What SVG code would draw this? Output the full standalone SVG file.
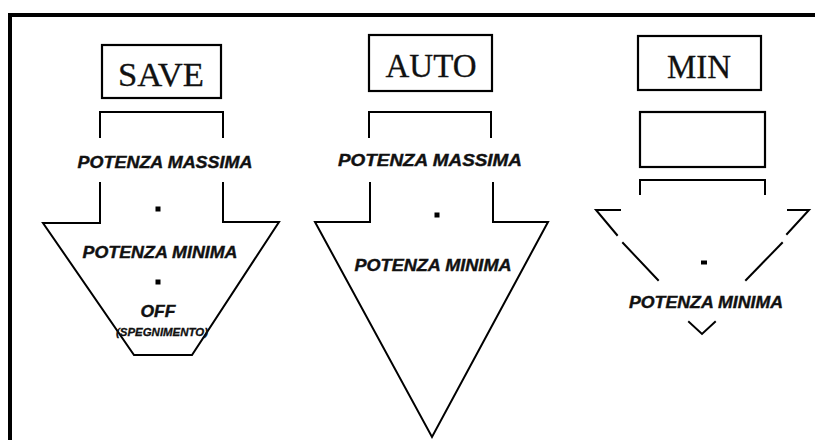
<svg xmlns="http://www.w3.org/2000/svg" width="815" height="440" viewBox="0 0 815 440">
<style>
.ln{fill:none;stroke:#000;stroke-width:2;stroke-linejoin:miter;stroke-linecap:square}
.bx{fill:#fff;stroke:#000;stroke-width:2.2}
.mode{font-family:"Liberation Serif","Times New Roman",serif;font-size:33px;fill:#111;stroke:#111;stroke-width:0.3;text-anchor:middle}
.lbl{font-family:"Liberation Sans",Arial,sans-serif;font-weight:bold;font-style:italic;font-size:17px;fill:#111;stroke:#111;stroke-width:0.4;text-anchor:middle}
.small{font-family:"Liberation Sans",Arial,sans-serif;font-weight:bold;font-style:italic;font-size:11px;fill:#111;stroke:#111;stroke-width:0.3;text-anchor:middle}
.dot{fill:#000}
</style>
<rect width="815" height="440" fill="#fff"/>
<g id="frame">
<line x1="8" y1="15" x2="815" y2="15" stroke="#000" stroke-width="4"/>
<line x1="10" y1="13" x2="10" y2="440" stroke="#000" stroke-width="4"/>
</g>

<g id="save-label">
<rect class="bx" x="102" y="45" width="119" height="53"/>
<text class="mode" x="161" y="86" textLength="86" lengthAdjust="spacingAndGlyphs">SAVE</text>
</g>
<g id="save-arrow">
<path class="ln" d="M100,137 V112 H223 V137"/>
<path class="ln" d="M100,183 V223 H43 L134,355 H192 L279,222 H223 V183"/>
<text class="lbl" x="165" y="168" textLength="175" lengthAdjust="spacingAndGlyphs">POTENZA MASSIMA</text>
<rect class="dot" x="155.5" y="206.5" width="5" height="5"/>
<text class="lbl" x="160" y="258" textLength="155" lengthAdjust="spacingAndGlyphs">POTENZA MINIMA</text>
<rect class="dot" x="155.5" y="279.5" width="5" height="5"/>
<text class="lbl" x="158" y="317" textLength="35" lengthAdjust="spacingAndGlyphs">OFF</text>
<text class="small" x="162" y="336" textLength="92" lengthAdjust="spacingAndGlyphs">(SPEGNIMENTO)</text>
</g>

<g id="auto-label">
<rect class="bx" x="369" y="35" width="123" height="56"/>
<text class="mode" x="431" y="77" textLength="91" lengthAdjust="spacingAndGlyphs">AUTO</text>
</g>
<g id="auto-arrow">
<path class="ln" d="M369,137 V112 H491 V137"/>
<path class="ln" d="M370,183 V222 H315 L432,437 L548,222 H493 V183"/>
<text class="lbl" x="430" y="166" textLength="184" lengthAdjust="spacingAndGlyphs">POTENZA MASSIMA</text>
<rect class="dot" x="434.5" y="212.5" width="5" height="5"/>
<text class="lbl" x="433" y="271" textLength="157" lengthAdjust="spacingAndGlyphs">POTENZA MINIMA</text>
</g>

<g id="min-label">
<rect class="bx" x="638" y="36" width="123" height="54"/>
<text class="mode" x="699" y="78" textLength="64" lengthAdjust="spacingAndGlyphs">MIN</text>
</g>
<g id="min-blank">
<rect class="bx" x="640" y="112" width="125" height="55"/>
</g>
<g id="min-arrow">
<path class="ln" d="M640,194 V180 H765 V194"/>
<path class="ln" d="M620,210 H596 L617,235"/>
<path class="ln" d="M623,243 L658,280"/>
<path class="ln" d="M788,210 H809 L787,234"/>
<path class="ln" d="M782,243 L746,280"/>
<rect class="dot" x="701" y="260.5" width="6" height="4"/>
<text class="lbl" x="706" y="308" textLength="154" lengthAdjust="spacingAndGlyphs">POTENZA MINIMA</text>
<path class="ln" d="M689,322 L702,334 L715,322"/>
</g>
</svg>
